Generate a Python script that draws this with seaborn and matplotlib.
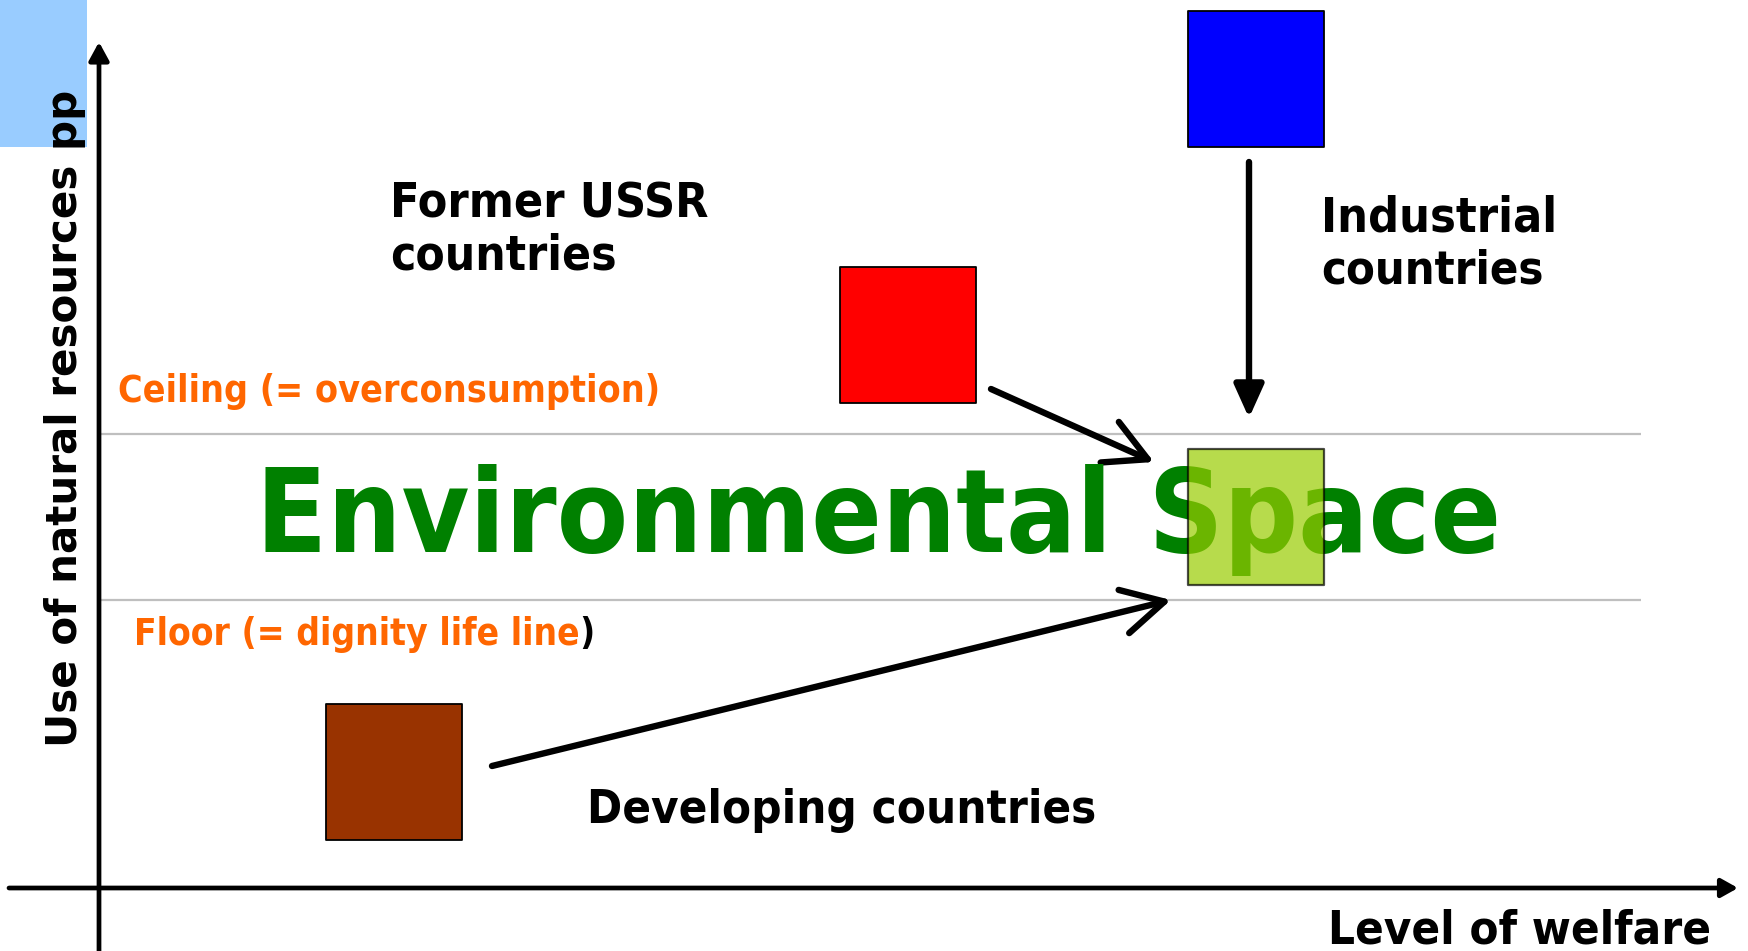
import matplotlib
matplotlib.use("Agg")
import matplotlib.pyplot as plt
import seaborn as sns
import pandas as pd
from matplotlib.patches import Rectangle

# ---------------- data ----------------
groups = ["Developing countries", "Former USSR countries", "Industrial countries"]
welfare = [394, 908, 1256]            # level of welfare (horizontal position)
resource_use = [179, 616, 872]        # use of natural resources pp (vertical position)
group_colors = ["#993300", "#FF0000", "#0000FF"]

target_label = "Environmental Space"
target_welfare = [1256]
target_resource = [434]
target_color = "#99CC00"

ceiling_level = 517
floor_level = 351
band_x = [100, 1641]

# trajectories (start -> end) of each group towards the environmental space
arrow_start_x = [492, 991, 1249]
arrow_start_y = [185, 562, 789]
arrow_end_x = [1171, 1154, 1249]
arrow_end_y = [351, 489, 533]

x_label = "Level of welfare"
y_label = "Use of natural resources pp"
ceiling_label = "Ceiling (= overconsumption)"
floor_label = "Floor (= dignity life line"

W, H = 1748, 951

# ---------------- figure ----------------
sns.set_theme(style="white")
plt.rcParams["font.family"] = ["DejaVu Sans"]

fig = plt.figure(figsize=(W / 100, H / 100), dpi=100)
ax = fig.add_axes([0, 0, 1, 1])

ax.add_patch(Rectangle((0, H - 147), 87, 147, color="#99CCFF", zorder=1, lw=0))

# band lines
ax.hlines([ceiling_level, floor_level], band_x[0], band_x[1], color="#BFBFBF", lw=1.6, zorder=2)

# axes arrows
ax.annotate("", xy=(1738, 63), xytext=(9, 63),
            arrowprops=dict(arrowstyle="-|>,head_length=0.5,head_width=0.28", lw=3.4,
                            color="black", mutation_scale=20, shrinkA=0, shrinkB=0), zorder=3)
ax.annotate("", xy=(99, 909), xytext=(99, -5),
            arrowprops=dict(arrowstyle="-|>,head_length=0.55,head_width=0.3", lw=3.4,
                            color="black", mutation_scale=20, shrinkA=0, shrinkB=0), zorder=3)

# squares
df = pd.DataFrame({"group": groups, "welfare": welfare, "resource": resource_use})
sns.scatterplot(data=df, x="welfare", y="resource", hue="group",
                palette=dict(zip(groups, group_colors)), marker="s", s=9580,
                edgecolor="black", linewidth=1.3, legend=False, ax=ax, zorder=4)
sns.scatterplot(x=target_welfare, y=target_resource, color=target_color, alpha=0.7,
                marker="s", s=9580, edgecolor="black", linewidth=1.6, legend=False,
                ax=ax, zorder=6)
ax.set_xlim(0, W)
ax.set_ylim(0, H)
ax.axis("off")

# trajectory arrows
for i in range(len(arrow_start_x)):
    style = "-|>,head_length=1.0,head_width=0.45" if i == 2 else "->,head_length=1.5,head_width=0.8"
    ax.annotate("", xy=(arrow_end_x[i], arrow_end_y[i]), xytext=(arrow_start_x[i], arrow_start_y[i]),
                arrowprops=dict(arrowstyle=style, lw=4.6, color="black",
                                mutation_scale=20, shrinkA=0, shrinkB=0), zorder=5)

renderer = fig.canvas.get_renderer()


def fit_text(x, y, s, target, family="DejaVu Sans", stretch="condensed", color="black",
             rotation=0, ha="left", va="baseline", zorder=5):
    t = ax.text(x, y, s, fontsize=30, fontweight="bold", family=family, fontstretch=stretch,
                color=color, rotation=rotation, ha=ha, va=va, zorder=zorder)
    bb = t.get_window_extent(renderer)
    cur = bb.height if rotation == 90 else bb.width
    t.set_fontsize(30 * target / cur)
    return t


# large titles
fit_text(256, H - 552, target_label, 1243, color="#008000", zorder=5)
fit_text(390, H - 217, "Former USSR", 318)
fit_text(390, H - 269, "countries", 226)
fit_text(65, H - 418, y_label, 658, stretch="normal", rotation=90, ha="center", va="center", zorder=3)

# group / axis labels
fit_text(1321, H - 232, "Industrial", 235)
fit_text(1321, H - 284, "countries", 223)
fit_text(587, H - 823, "Developing countries", 508)
fit_text(1711, H - 944, x_label, 382, ha="right")
fit_text(118, H - 402, ceiling_label, 540, color="#FF6600")
ft = fit_text(134, H - 645, floor_label, 446, color="#FF6600")
bb = ft.get_window_extent(renderer)
ax.text(bb.x1, H - 645, ")", fontsize=ft.get_fontsize(), fontweight="bold",
        family="DejaVu Sans", fontstretch="condensed", color="black", ha="left", va="baseline")

fig.savefig("out.png", dpi=100)
